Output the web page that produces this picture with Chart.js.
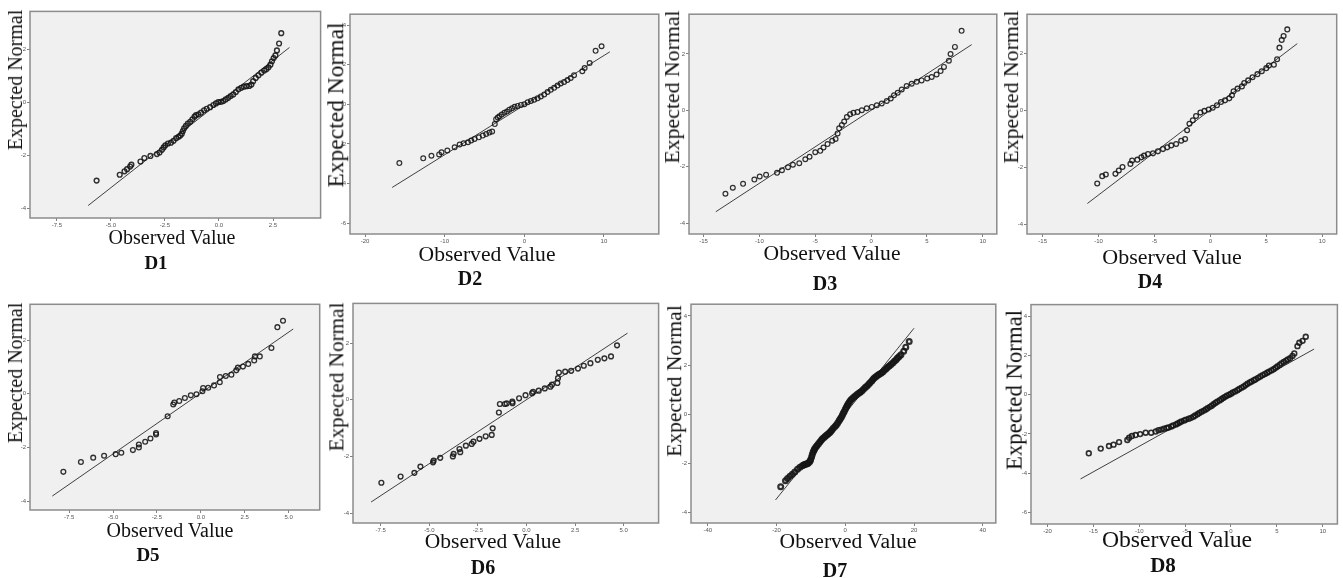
<!DOCTYPE html>
<html>
<head>
<meta charset="utf-8">
<script src="https://cdn.jsdelivr.net/npm/chart.js@4.4.0/dist/chart.umd.min.js"></script>
<style>
  body { margin: 0; background: #fff; }
  #fig { position: relative; width: 1343px; height: 578px; overflow: hidden; font-family: "Liberation Serif", "Times New Roman", serif; }
  #fig canvas { position: absolute; }
  .lbl { position: absolute; white-space: nowrap; line-height: 1; color: #111; }
</style>
</head>
<body>
<div id="fig"></div>
<script>
const d1Points = [[-5.66,-2.96],[-4.59,-2.74],[-4.37,-2.61],[-4.25,-2.53],[-4.11,-2.43],[-4.05,-2.36],[-3.63,-2.24],[-3.45,-2.11],[-3.17,-2.03],
  [-2.87,-1.96],[-2.75,-1.90],[-2.64,-1.80],[-2.56,-1.71],[-2.48,-1.63],[-2.36,-1.56],[-2.22,-1.53],[-2.10,-1.46],[-1.98,-1.36],[-1.87,-1.31],
  [-1.79,-1.26],[-1.72,-1.19],[-1.67,-1.09],[-1.61,-0.99],[-1.53,-0.90],[-1.44,-0.81],[-1.33,-0.74],[-1.23,-0.65],[-1.13,-0.55],[-1.06,-0.49],
  [-0.95,-0.46],[-0.83,-0.40],[-0.69,-0.31],[-0.57,-0.25],[-0.41,-0.19],[-0.26,-0.11],[-0.14,-0.05],[-0.03,0.00],[0.09,0.01],[0.20,0.04],
  [0.31,0.10],[0.43,0.16],[0.54,0.23],[0.66,0.29],[0.78,0.38],[0.90,0.48],[1.03,0.54],[1.15,0.58],[1.27,0.60],[1.40,0.61],[1.50,0.66],
  [1.58,0.79],[1.70,0.91],[1.83,1.01],[1.96,1.11],[2.09,1.19],[2.19,1.24],[2.29,1.31],[2.38,1.41],[2.45,1.54],[2.53,1.66],[2.61,1.76],
  [2.68,1.95],[2.78,2.21],[2.88,2.60]];
const d1Line = [[-6.05,-3.9],[3.26,2.06]];
const d1XTicks = [-7.5,-5,-2.5,0,2.5];
const d1YTicks = [-4,-2,0,2];
const d1XRange = [-8.74,4.7];
const d1YRange = [-4.37,3.42];

const d2Points = [[-15.7,-2.97],[-12.7,-2.73],[-11.67,-2.6],[-10.7,-2.53],[-10.4,-2.42],[-9.67,-2.33],[-8.75,-2.17],[-8.12,-2.03],[-7.62,-1.97],
  [-7.08,-1.92],[-6.67,-1.83],[-6.25,-1.75],[-5.71,-1.67],[-5.21,-1.58],[-4.79,-1.5],[-4.38,-1.43],[-4.04,-1.38],[-3.71,-1.0],[-3.54,-0.75],
  [-3.33,-0.67],[-3.12,-0.6],[-2.83,-0.52],[-2.5,-0.43],[-2.17,-0.37],[-1.88,-0.27],[-1.54,-0.2],[-1.21,-0.13],[-0.83,-0.08],[-0.42,-0.03],
  [0,0],[0.42,0.1],[0.83,0.17],[1.25,0.23],[1.67,0.3],[2.08,0.4],[2.5,0.5],[2.92,0.62],[3.33,0.73],[3.75,0.83],[4.17,0.95],[4.58,1.05],
  [5.0,1.13],[5.42,1.23],[5.83,1.33],[6.25,1.47],[7.29,1.67],[7.58,1.83],[8.21,2.08],[8.96,2.7],[9.71,2.93]];
const d2Line = [[-16.6,-4.2],[10.75,2.65]];
const d2XTicks = [-20,-10,0,10];
const d2YTicks = [-6,-4,-2,0,2,4];
const d2XRange = [-21.9,16.9];
const d2YRange = [-6.55,4.55];

const d3Points = [[-13.04,-2.96],[-12.38,-2.75],[-11.46,-2.61],[-10.45,-2.46],[-9.97,-2.35],[-9.4,-2.29],[-8.42,-2.22],[-7.98,-2.13],[-7.44,-2.02],
  [-7.0,-1.93],[-6.43,-1.88],[-5.89,-1.74],[-5.51,-1.65],[-5.0,-1.49],[-4.55,-1.44],[-4.26,-1.32],[-3.9,-1.2],[-3.48,-1.08],[-3.18,-1.02],
  [-3.0,-0.82],[-2.86,-0.64],[-2.62,-0.52],[-2.41,-0.4],[-2.17,-0.24],[-1.88,-0.14],[-1.58,-0.09],[-1.22,-0.06],[-0.83,0],[-0.39,0.07],
  [0.06,0.12],[0.51,0.18],[0.95,0.24],[1.4,0.33],[1.76,0.42],[2.05,0.53],[2.38,0.62],[2.74,0.74],[3.18,0.86],[3.63,0.94],[4.08,1.01],
  [4.52,1.06],[5.02,1.13],[5.42,1.18],[5.86,1.27],[6.22,1.39],[6.52,1.54],[6.96,1.76],[7.11,2.0],[7.5,2.25],[8.1,2.82]];
const d3Line = [[-13.9,-3.6],[9.0,2.33]];
const d3XTicks = [-15,-10,-5,0,5,10];
const d3YTicks = [-4,-2,0,2];
const d3XRange = [-16.3,11.25];
const d3YRange = [-4.39,3.41];

const d4Points = [[-10.12,-2.58],[-9.67,-2.32],[-9.35,-2.26],[-8.49,-2.24],[-8.19,-2.12],[-7.86,-2.0],[-7.15,-1.89],[-7.0,-1.77],[-6.53,-1.74],
  [-6.17,-1.66],[-5.93,-1.6],[-5.58,-1.54],[-5.13,-1.52],[-4.69,-1.45],[-4.24,-1.37],[-3.86,-1.31],[-3.5,-1.24],[-3.06,-1.19],[-2.61,-1.08],
  [-2.26,-1.02],[-2.08,-0.71],[-1.87,-0.48],[-1.57,-0.36],[-1.28,-0.21],[-0.89,-0.09],[-0.53,-0.03],[-0.15,0.02],[0.21,0.08],[0.59,0.17],
  [0.95,0.28],[1.31,0.34],[1.69,0.41],[1.93,0.52],[2.08,0.66],[2.43,0.75],[2.82,0.83],[3.03,0.95],[3.38,1.04],[3.77,1.15],[4.21,1.26],
  [4.6,1.36],[5.0,1.47],[5.24,1.56],[5.68,1.59],[5.97,1.78],[6.18,2.19],[6.38,2.46],[6.55,2.6],[6.88,2.83]];
const d4Line = [[-11.0,-3.28],[7.77,2.33]];
const d4XTicks = [-15,-10,-5,0,5,10];
const d4YTicks = [-4,-2,0,2];
const d4XRange = [-16.4,11.3];
const d4YRange = [-4.35,3.36];

const d5Points = [[-7.83,-2.91],[-6.83,-2.54],[-6.13,-2.38],[-5.51,-2.31],[-4.85,-2.25],[-4.53,-2.2],[-3.87,-2.1],[-3.53,-2.0],[-3.53,-1.89],
  [-3.17,-1.79],[-2.87,-1.67],[-2.55,-1.52],[-2.55,-1.46],[-1.89,-0.84],[-1.57,-0.4],[-1.51,-0.33],[-1.23,-0.27],[-0.91,-0.16],[-0.57,-0.06],
  [-0.25,-0.02],[0.09,0.09],[0.13,0.21],[0.42,0.22],[0.75,0.31],[1.08,0.43],[1.09,0.62],[1.42,0.66],[1.74,0.71],[2.02,0.87],[2.11,0.97],
  [2.4,1.01],[2.7,1.11],[3.04,1.24],[3.08,1.39],[3.36,1.39],[4.02,1.7],[4.36,2.48],[4.68,2.72]];
const d5Line = [[-8.46,-3.81],[5.26,2.41]];
const d5XTicks = [-7.5,-5,-2.5,0,2.5,5];
const d5YTicks = [-4,-2,0,2];
const d5XRange = [-9.73,6.77];
const d5YRange = [-4.33,3.33];

const d6Points = [[-7.47,-2.93],[-6.48,-2.71],[-5.77,-2.58],[-5.46,-2.36],[-4.78,-2.15],[-4.81,-2.21],[-4.44,-2.05],[-3.79,-2.0],[-3.75,-1.91],
  [-3.45,-1.74],[-3.41,-1.85],[-3.12,-1.62],[-2.82,-1.56],[-2.73,-1.48],[-2.42,-1.38],[-2.1,-1.29],[-1.79,-1.24],[-1.74,-1.01],[-1.42,-0.45],
  [-1.37,-0.15],[-1.11,-0.15],[-1.02,-0.13],[-0.73,-0.07],[-0.72,-0.12],[-0.38,0.05],[-0.05,0.16],[0.29,0.23],[0.34,0.28],[0.63,0.32],
  [0.94,0.4],[1.23,0.46],[1.31,0.53],[1.59,0.59],[1.62,0.76],[1.67,0.96],[1.99,0.99],[2.3,1.02],[2.65,1.1],[2.95,1.2],[3.29,1.29],
  [3.67,1.41],[4.01,1.46],[4.35,1.53],[4.66,1.92]];
const d6Line = [[-8.0,-3.61],[5.2,2.35]];
const d6XTicks = [-7.5,-5,-2.5,0,2.5,5];
const d6YTicks = [-4,-2,0,2];
const d6XRange = [-8.93,6.8];
const d6YRange = [-4.35,3.4];

const d7Points = [[-18.8,-2.96],[-17.4,-2.72],[-16.8,-2.63],[-16.1,-2.53],[-15.4,-2.45],[-14.7,-2.36],[-13.9,-2.25],[-13.2,-2.17],[-12.5,-2.11],
  [-12.1,-2.08],[-11.8,-2.05],[-11.4,-2.03],[-11.0,-2.02],[-10.7,-1.98],[-10.3,-1.93],[-10.1,-1.86],[-9.8,-1.75],[-9.6,-1.65],[-9.35,-1.55],
  [-9.1,-1.47],[-8.9,-1.41],[-8.55,-1.34],[-8.2,-1.28],[-7.8,-1.21],[-7.4,-1.14],[-7.0,-1.07],[-6.65,-1.01],[-6.2,-0.95],[-5.8,-0.9],
  [-5.4,-0.85],[-5.0,-0.81],[-4.6,-0.76],[-4.25,-0.71],[-3.9,-0.65],[-3.5,-0.58],[-3.0,-0.51],[-2.6,-0.44],[-2.2,-0.36],[-1.8,-0.27],
  [-1.5,-0.2],[-1.15,-0.13],[-0.85,-0.05],[-0.6,0.03],[-0.3,0.11],[0.0,0.2],[0.3,0.28],[0.6,0.36],[0.9,0.43],[1.25,0.5],[1.6,0.57],
  [2.0,0.63],[2.45,0.69],[2.9,0.74],[3.4,0.8],[3.9,0.85],[4.35,0.89],[4.8,0.94],[5.3,1.01],[5.8,1.08],[6.25,1.14],[6.75,1.21],[7.2,1.28],
  [7.7,1.35],[8.1,1.42],[8.5,1.48],[9.0,1.53],[9.45,1.58],[9.9,1.62],[10.4,1.66],[10.9,1.72],[11.4,1.79],[11.9,1.85],[12.3,1.91],
  [12.8,1.96],[13.3,2.02],[13.8,2.08],[14.3,2.15],[14.8,2.22],[15.2,2.29],[15.7,2.35],[16.2,2.42],[17.0,2.56],[17.6,2.73],[18.6,2.96]];
const d7Line = [[-20.3,-3.5],[20.0,3.5]];
const d7XTicks = [-40,-20,0,20,40];
const d7YTicks = [-4,-2,0,2,4];
const d7XRange = [-44.9,43.8];
const d7YRange = [-4.44,4.48];

const d8Points = [[-15.5,-2.99],[-14.2,-2.75],[-13.3,-2.62],[-12.8,-2.55],[-12.2,-2.42],[-11.3,-2.31],[-11.1,-2.2],[-10.8,-2.11],[-10.4,-2.06],
  [-9.9,-2.01],[-9.3,-1.94],[-8.7,-1.94],[-8.2,-1.88],[-7.9,-1.81],[-7.6,-1.78],[-7.3,-1.74],[-7.0,-1.7],[-6.8,-1.67],[-6.5,-1.62],
  [-6.3,-1.57],[-6.0,-1.52],[-5.8,-1.47],[-5.6,-1.42],[-5.4,-1.37],[-5.1,-1.32],[-4.9,-1.27],[-4.6,-1.23],[-4.35,-1.18],[-4.1,-1.12],
  [-3.9,-1.06],[-3.65,-1.0],[-3.45,-0.93],[-3.2,-0.87],[-2.95,-0.81],[-2.75,-0.75],[-2.55,-0.69],[-2.3,-0.62],[-2.1,-0.56],[-1.9,-0.49],
  [-1.7,-0.42],[-1.5,-0.36],[-1.25,-0.29],[-1.05,-0.23],[-0.85,-0.17],[-0.65,-0.11],[-0.45,-0.05],[-0.2,0.0],[0.0,0.05],[0.2,0.11],
  [0.45,0.17],[0.7,0.23],[0.9,0.29],[1.15,0.36],[1.4,0.42],[1.6,0.49],[1.8,0.56],[2.05,0.62],[2.25,0.68],[2.5,0.74],[2.7,0.79],
  [2.95,0.86],[3.2,0.93],[3.45,1.0],[3.7,1.06],[3.95,1.12],[4.15,1.18],[4.4,1.24],[4.65,1.3],[4.85,1.37],[5.05,1.44],[5.3,1.52],
  [5.5,1.6],[5.75,1.67],[6.0,1.74],[6.2,1.8],[6.45,1.86],[6.7,1.98],[6.9,2.11],[7.25,2.48],[7.45,2.65],[7.8,2.75],[8.15,2.96]];
const d8Line = [[-16.4,-4.3],[9.06,2.33]];
const d8XTicks = [-20,-15,-10,-5,0,5,10];
const d8YTicks = [-6,-4,-2,0,2,4];
const d8XRange = [-21.8,11.6];
const d8YRange = [-6.6,4.6];

const panelNames = ['D1','D2','D3','D4','D5','D6','D7','D8'];
const xTitle = 'Observed Value';
const yTitle = 'Expected Normal';

// paneles (datos + decimales de las etiquetas del eje x)
const panels = [
  { pts: d1Points, line: d1Line, xt: d1XTicks, yt: d1YTicks, xr: d1XRange, yr: d1YRange, dec: 1 },
  { pts: d2Points, line: d2Line, xt: d2XTicks, yt: d2YTicks, xr: d2XRange, yr: d2YRange, dec: 0 },
  { pts: d3Points, line: d3Line, xt: d3XTicks, yt: d3YTicks, xr: d3XRange, yr: d3YRange, dec: 0 },
  { pts: d4Points, line: d4Line, xt: d4XTicks, yt: d4YTicks, xr: d4XRange, yr: d4YRange, dec: 0 },
  { pts: d5Points, line: d5Line, xt: d5XTicks, yt: d5YTicks, xr: d5XRange, yr: d5YRange, dec: 1 },
  { pts: d6Points, line: d6Line, xt: d6XTicks, yt: d6YTicks, xr: d6XRange, yr: d6YRange, dec: 1 },
  { pts: d7Points, line: d7Line, xt: d7XTicks, yt: d7YTicks, xr: d7XRange, yr: d7YRange, dec: 0 },
  { pts: d8Points, line: d8Line, xt: d8XTicks, yt: d8YTicks, xr: d8XRange, yr: d8YRange, dec: 0 }
];

// posicion de cada panel: caja del grafico, centros de los textos [cx, cy, tamaño] y grosor del circulo
const layout = [
  { box: [30, 10, 322, 218],    yLab: [15, 80, 20],     xLab: [172, 237, 20],    tag: [156, 262, 19], pw: 1.4 },
  { box: [350, 13, 660, 234],   yLab: [336, 105, 23.5], xLab: [487, 255, 21.6],  tag: [470, 278, 20], pw: 1.2 },
  { box: [689, 13, 998, 234],   yLab: [673, 87, 21.8],  xLab: [832, 254, 21.6],  tag: [825, 283, 20], pw: 1.2 },
  { box: [1027, 13, 1338, 234], yLab: [1012, 87, 21.8], xLab: [1172, 257, 22],   tag: [1150, 281, 20], pw: 1.3 },
  { box: [30, 303, 321, 510],   yLab: [15, 373, 20],    xLab: [170, 530, 20],    tag: [148, 554, 19], pw: 1.3 },
  { box: [353, 302, 660, 523],  yLab: [337, 377, 21.2], xLab: [493, 542, 21.5],  tag: [483, 567, 20], pw: 1.4 },
  { box: [691, 302, 998, 523],  yLab: [675, 381, 21.6], xLab: [848, 542, 21.6],  tag: [835, 570, 20], pw: 2.2 },
  { box: [1031, 303, 1339, 524],yLab: [1015, 390, 22.8],xLab: [1177, 540, 23.7], tag: [1163, 565, 21], pw: 1.6 }
];

const fig = document.getElementById('fig');

// fondo gris y marco del area de trazado
const boxPlugin = {
  id: 'plotBox',
  beforeDraw(chart) {
    const { ctx, chartArea: a } = chart;
    ctx.save();
    ctx.fillStyle = '#f0f0f0';
    ctx.fillRect(a.left, a.top, a.right - a.left, a.bottom - a.top);
    ctx.restore();
  },
  afterDraw(chart) {
    const { ctx, chartArea: a } = chart;
    ctx.save();
    ctx.strokeStyle = '#8c8c8c';
    ctx.lineWidth = 1.5;
    ctx.strokeRect(a.left, a.top, a.right - a.left, a.bottom - a.top);
    ctx.restore();
  }
};

function addText(txt, [cx, cy, size], bold, rotate) {
  const d = document.createElement('div');
  d.className = 'lbl';
  d.textContent = txt;
  d.style.left = cx + 'px';
  d.style.top = cy + 'px';
  d.style.fontSize = size + 'px';
  if (bold) d.style.fontWeight = 'bold';
  d.style.transform = 'translate(-50%,-50%)' + (rotate ? ' rotate(-90deg)' : '');
  fig.appendChild(d);
}

function makePanel(p, lay) {
  const [l, t, r, b] = lay.box;
  const padL = 16, padT = 4, padR = 4, padB = 14;
  const w = r - l + padL + padR, h = b - t + padT + padB;
  const c = document.createElement('canvas');
  c.width = w; c.height = h;
  c.style.left = (l - padL) + 'px';
  c.style.top = (t - padT) + 'px';
  c.style.width = w + 'px';
  c.style.height = h + 'px';
  fig.appendChild(c);

  const tickFont = { size: 6, family: 'Liberation Sans' };
  const grid = { drawOnChartArea: false, tickLength: 3, color: '#808080' };

  new Chart(c, {
    type: 'scatter',
    data: {
      datasets: [
        {
          type: 'line',
          data: p.line.map(([x, y]) => ({ x, y })),
          borderColor: '#404040',
          borderWidth: 1,
          pointRadius: 0,
          fill: false,
          order: 1
        },
        {
          data: p.pts.map(([x, y]) => ({ x, y })),
          pointRadius: 2.4,
          pointBorderWidth: lay.pw,
          borderColor: 'rgba(20,20,20,0.88)',
          backgroundColor: 'rgba(0,0,0,0)',
          order: 0
        }
      ]
    },
    options: {
      responsive: false,
      animation: false,
      layout: { padding: { top: padT, right: padR, left: 0, bottom: 0 } },
      plugins: { legend: { display: false }, tooltip: { enabled: false } },
      scales: {
        x: {
          type: 'linear', min: p.xr[0], max: p.xr[1],
          afterFit: s => { s.height = padB; },
          afterBuildTicks: s => { s.ticks = p.xt.map(v => ({ value: v })); },
          ticks: { font: tickFont, color: '#555', padding: 1, maxRotation: 0, autoSkip: false,
                   callback: v => Number(v).toFixed(p.dec) },
          grid, border: { display: false }
        },
        y: {
          type: 'linear', min: p.yr[0], max: p.yr[1],
          afterFit: s => { s.width = padL; },
          afterBuildTicks: s => { s.ticks = p.yt.map(v => ({ value: v })); },
          ticks: { font: tickFont, color: '#555', padding: 1, autoSkip: false,
                   callback: v => String(v) },
          grid, border: { display: false }
        }
      }
    },
    plugins: [boxPlugin]
  });

}

panels.forEach((p, i) => {
  const lay = layout[i];
  makePanel(p, lay);
  addText(yTitle, lay.yLab, false, true);
  addText(xTitle, lay.xLab, false, false);
  addText(panelNames[i], lay.tag, true, false);
});
</script>
</body>
</html>
